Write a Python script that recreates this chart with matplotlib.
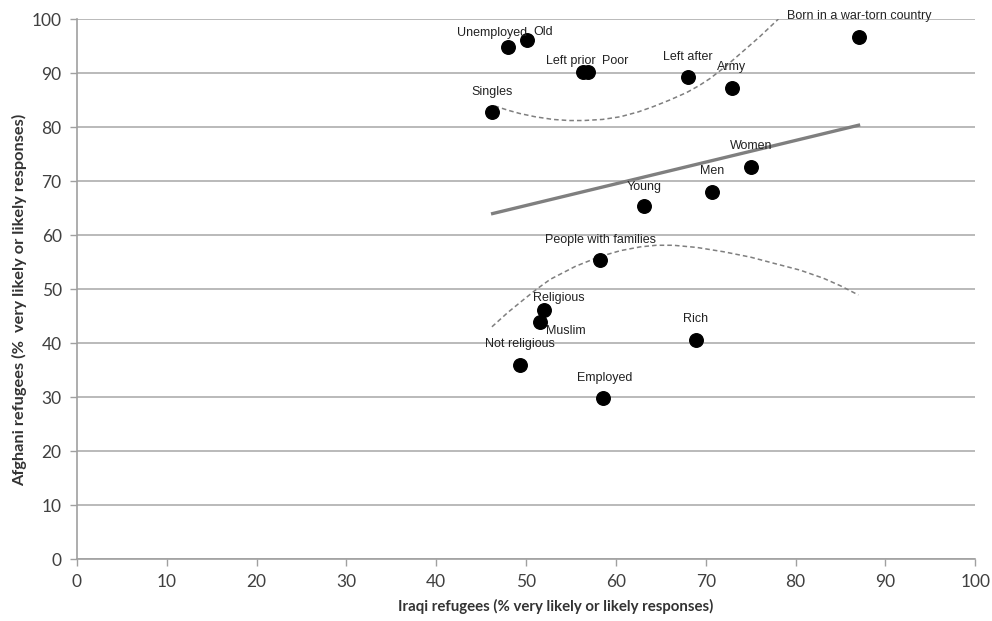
import matplotlib
matplotlib.use("Agg")
import matplotlib.pyplot as plt

# survey groups: x = Iraqi refugees, y = Afghani refugees (% likely)
labels = ["Unemployed", "Old", "Left prior", "Poor", "Left after", "Singles",
          "Born in a war-torn country", "Army", "Women", "Men", "Young",
          "People with families", "Religious", "Muslim", "Not religious",
          "Rich", "Employed"]
iraqi = [48.0, 50.1, 56.3, 56.9, 68.0, 46.2, 87.1, 72.9, 75.1, 70.7, 63.1,
         58.2, 52.0, 51.5, 49.3, 68.9, 58.6]
afghani = [94.8, 96.1, 90.1, 90.1, 89.3, 82.8, 96.7, 87.3, 72.6, 68.0, 65.4,
           55.4, 46.1, 43.9, 35.9, 40.6, 29.9]

# linear trend
trend_x = [46.1, 87.2]
trend_y = [63.9, 80.4]

# confidence bands
upper_x = [46.5, 48.0, 49.3, 51.0, 53.0, 54.8, 56.4, 58.5, 60.5, 62.5, 64.2,
           66.0, 67.9, 69.3, 70.5, 72.2, 73.8, 76.0, 78.1]
upper_y = [83.9, 83.1, 82.5, 81.9, 81.4, 81.2, 81.2, 81.4, 81.9, 82.8, 83.8,
           85.0, 86.4, 87.7, 89.0, 91.2, 93.5, 96.7, 100.0]
lower_x = [46.2, 48.0, 49.7, 51.2, 52.7, 55.5, 58.2, 60.5, 62.7, 64.5, 66.4,
           69.0, 72.0, 75.0, 77.5, 80.5, 83.1, 85.0, 87.0]
lower_y = [43.0, 45.7, 48.0, 50.0, 51.8, 54.2, 56.0, 57.1, 57.8, 58.1, 58.1,
           57.7, 56.9, 55.9, 54.8, 53.5, 52.0, 50.6, 48.9]

# label offsets in pixels from the dot
offsets = {
    "Unemployed": (-16, 14), "Old": (16, 8), "Left prior": (-12, 11),
    "Poor": (27, 11), "Left after": (0, 20), "Singles": (0, 20),
    "Born in a war-torn country": (0, 21), "Army": (0, 21), "Women": (0, 21),
    "Men": (0, 21), "Young": (0, 19), "People with families": (1, 20),
    "Religious": (15, 12), "Muslim": (26, -9), "Not religious": (0, 21),
    "Rich": (0, 21), "Employed": (1, 20),
}

fig = plt.figure(figsize=(9.92, 6.21), dpi=100)
ax = fig.add_axes([0.0776, 0.0998, 0.9054, 0.8696])

ax.set_xlim(0, 100)
ax.set_ylim(0, 100)
ax.set_xticks(range(0, 101, 10))
ax.set_yticks(range(0, 101, 10))
ax.yaxis.grid(True, color="#b4b4b4", linewidth=1.3)
ax.set_axisbelow(True)

for side in ["top", "right"]:
    ax.spines[side].set_visible(False)
for side in ["left", "bottom"]:
    ax.spines[side].set_color("#a0a0a0")
    ax.spines[side].set_linewidth(1.2)
ax.tick_params(axis="both", color="#a0a0a0", length=5, width=1,
               labelsize=12.5, labelcolor="#404040", pad=6)
for lab in ax.get_xticklabels() + ax.get_yticklabels():
    lab.set_fontfamily("Lato")

ax.plot(upper_x, upper_y, color="#7f7f7f", linestyle=(0, (3, 2)), linewidth=1.1)
ax.plot(lower_x, lower_y, color="#7f7f7f", linestyle=(0, (3, 2)), linewidth=1.1)
ax.plot(trend_x, trend_y, color="#7f7f7f", linewidth=2.4, solid_capstyle="butt")

ax.scatter(iraqi, afghani, s=95, color="black", zorder=3)

for name, x, y in zip(labels, iraqi, afghani):
    dx, dy = offsets[name]
    ax.annotate(name, (x, y), xytext=(dx, dy), textcoords="offset pixels",
                ha="center", va="center", fontsize=9, color="#222222",
                fontfamily="Liberation Sans", annotation_clip=False)

ax.set_xlabel("Iraqi refugees (% very likely or likely responses)",
              fontsize=10.8, fontweight="bold", fontfamily="Lato",
              color="#333333")
ax.set_ylabel("Afghani refugees (%  very likely or likely responses)",
              fontsize=11.8, fontweight="bold", fontfamily="Lato",
              color="#333333")
ax.xaxis.set_label_coords(0.533, -0.073)
ax.yaxis.set_label_coords(-0.055, 0.48)

fig.savefig("out.png", dpi=100)
